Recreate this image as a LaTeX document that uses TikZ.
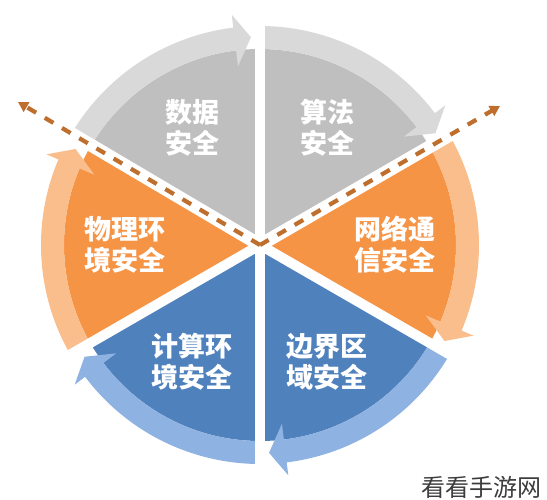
\documentclass[tikz,border=0pt]{standalone}
\usepackage{fontspec}
\newfontfamily\cjk{Noto Sans CJK SC}
\usetikzlibrary{arrows.meta}

\definecolor{secgrey}{RGB}{191,191,191}
\definecolor{bandgrey}{RGB}{217,217,217}
\definecolor{secorange}{RGB}{246,148,70}
\definecolor{bandorange}{RGB}{249,190,140}
\definecolor{secblue}{RGB}{79,129,189}
\definecolor{bandblue}{RGB}{142,178,226}
\definecolor{guidebrown}{RGB}{190,110,45}
\definecolor{wmgrey}{RGB}{60,60,60}

\tikzset{
  sectxt/.style={font=\cjk\bfseries\fontsize{27}{31}\selectfont, text=white, align=center, inner sep=0pt},
  wmtext/.style={font=\cjk\fontsize{24}{24}\selectfont, text=wmgrey, inner sep=0pt},
  gapline/.style={white, line width=10pt},
  guidestrip/.style={white, line width=13pt},
  guide/.style={draw=guidebrown, line width=4.2pt, dash pattern=on 10pt off 10pt,
    -{Triangle[length=10pt,width=11pt]}},
}

\begin{document}
\begin{tikzpicture}[x=1pt,y=1pt]
  \useasboundingbox (-260,-255) rectangle (287,245);
  % Define nodes
  \coordinate (o) at (0,0);
  \coordinate (lefttip) at (-242,143);
  \coordinate (righttip) at (240,139);
  % Sectors, bands and labels
  \foreach \m/\c/\lc/\txt [count=\i] in {120/secgrey/bandgrey/{数据\\安全},
      60/secgrey/bandgrey/{算法\\安全}, 0/secorange/bandorange/{网络通\\信安全},
      -60/secblue/bandblue/{边界区\\域安全}, -120/secblue/bandblue/{计算环\\境安全},
      180/secorange/bandorange/{物理环\\境安全}}{
    \fill[\c] (o) -- (\m+30:196) arc[start angle=\m+30, end angle=\m-30, radius=196] -- cycle;
    \fill[\lc] (\m+30:196) arc[start angle=\m+30, end angle=\m-23, radius=196]
      -- (\m-23:180) -- (\m-27.5:208) -- (\m-23:232) -- (\m-23:219)
      arc[start angle=\m-23, end angle=\m+30, radius=219] -- cycle;
    \node[sectxt] (sec\i) at (\m:135) {\txt};
  }
  % Gaps between sectors
  \foreach \a in {90,-30,-90,-150}
    \draw[gapline] (o) -- (\a:240);
  % Connect the nodes
  \draw[guidestrip] (o) -- (lefttip);
  \draw[guidestrip] (o) -- (righttip);
  \draw[guide] (o) -- (lefttip);
  \draw[guide] (o) -- (righttip);
  \node[wmtext] (wm) at (222,-242) {看看手游网};
\end{tikzpicture}
\end{document}
